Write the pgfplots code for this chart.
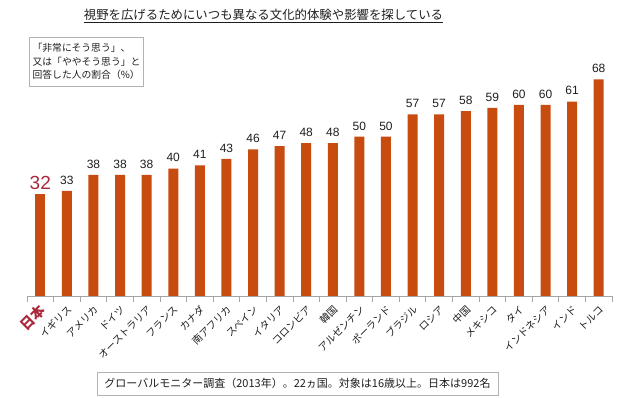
\documentclass[border=0pt]{standalone}
\usepackage{pgfplots}
\pgfplotsset{compat=1.18}
\usepackage{fontspec}
\setmainfont{Noto Sans CJK JP}
\newfontfamily\numfont{Liberation Sans}
\definecolor{barc}{RGB}{200,75,15}
\definecolor{jpred}{RGB}{170,40,60}
\definecolor{txt}{RGB}{30,30,30}
\begin{document}
\begin{tikzpicture}[x=1pt,y=1pt]
\path[use as bounding box] (0,0) rectangle (627,398);
\node[font=\fontsize{12.4}{12.4}\selectfont, text=txt] at (263.5,382) {\underline{視野を広げるためにいつも異なる文化的体験や影響を探している}};
\node[draw=gray!60, line width=0.8pt, minimum width=113pt, minimum height=49pt, inner sep=3pt, align=left, font=\fontsize{9.8}{13.5}\selectfont, text=txt] at (86.5,336.5) {「非常にそう思う」、\\又は「ややそう思う」と\\回答した人の割合（\%）};
\node[draw=gray!60, line width=0.8pt, minimum width=401pt, minimum height=23pt, inner sep=2pt, font=\fontsize{11}{11}\selectfont, text=txt] at (297.5,14.5) {グローバルモニター調査（2013年）。22ヵ国。対象は16歳以上。日本は992名};
\begin{axis}[
  at={(27pt,102pt)}, anchor=south west, scale only axis,
  width=585pt, height=239pt,
  xmin=-0.5, xmax=21.5, ymin=0, ymax=75,
  axis x line=bottom, axis y line=none,
  x axis line style={-, draw=gray!70, line width=0.8pt},
  xtick={0,...,21},
  major tick length=0pt,
  minor xtick={-0.5,0.5,...,21.5},
  minor tick length=6pt,
  tick align=outside,
  minor tick style={draw=gray!70, line width=0.8pt},
  /pgf/number format/assume math mode=true,
  xticklabels={{\textcolor{jpred}{\fontsize{14}{14}\selectfont\bfseries\hspace*{-3pt}\raisebox{-4pt}{日本}}},イギリス,アメリカ,ドイツ,オーストラリア,フランス,カナダ,南アフリカ,スペイン,イタリア,コロンビア,韓国,アルゼンチン,ポーランド,ブラジル,ロシア,中国,メキシコ,タイ,インドネシア,インド,トルコ},
  xticklabel style={rotate=45, anchor=east, font=\fontsize{10}{10}\selectfont, text=txt, inner sep=1pt, yshift=-10pt, xshift=-5pt},
  bar shift=0pt, bar width=10pt,
  clip=false,
]
\addplot[ybar, fill=barc, draw=none,
  nodes near coords={\numfont\pgfmathprintnumber{\pgfplotspointmeta}},
  nodes near coords style={font=\fontsize{19}{19}\selectfont, text=jpred, anchor=south, yshift=1pt}]
  coordinates {(0,32)};
\addplot[ybar, fill=barc, draw=none,
  nodes near coords={\numfont\pgfmathprintnumber{\pgfplotspointmeta}},
  nodes near coords style={font=\fontsize{12}{12}\selectfont, text=txt, anchor=south, yshift=3pt}]
  coordinates {(1,33) (2,38) (3,38) (4,38) (5,40) (6,41) (7,43) (8,46) (9,47) (10,48) (11,48) (12,50) (13,50) (14,57) (15,57) (16,58) (17,59) (18,60) (19,60) (20,61) (21,68)};
\end{axis}
\end{tikzpicture}
\end{document}
